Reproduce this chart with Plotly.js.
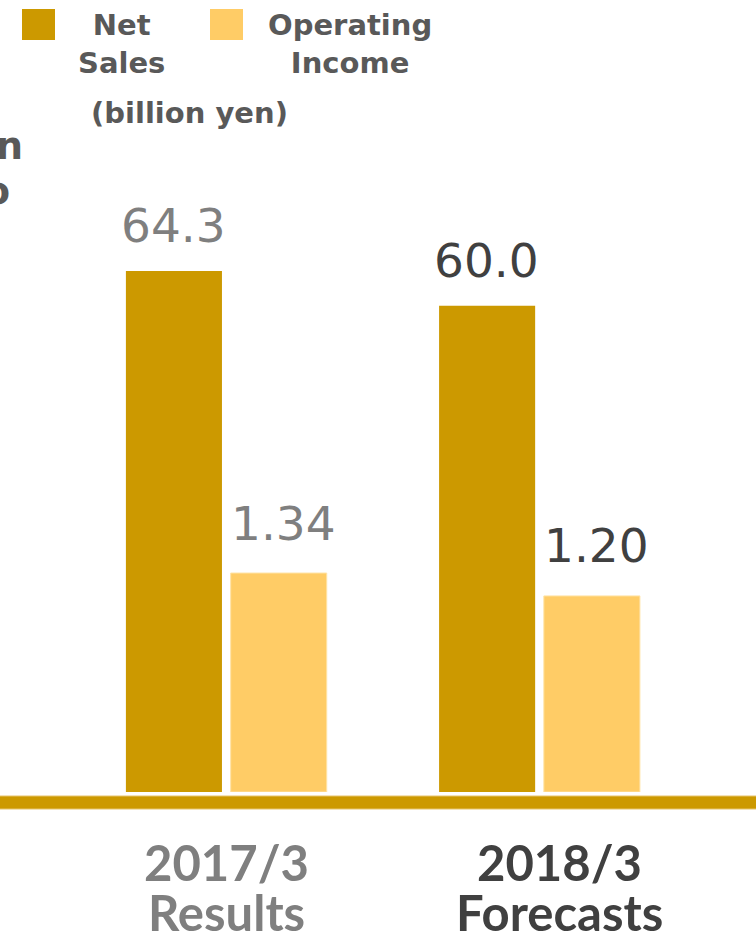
<!DOCTYPE html>
<html>
<head>
<meta charset="utf-8">
<script src="https://cdn.plot.ly/plotly-3.0.1.min.js"></script>
<style>html,body{margin:0;padding:0;background:#fff;}#chart{width:756px;height:931px;}</style>
</head>
<body>
<div id="chart"></div>
<script>
// ---- data ----
const categories = ['2017/3', '2018/3'];
const categoryNotes = ['Results', 'Forecasts'];
const netSales = [64.3, 60.0];
const operatingIncome = [1.34, 1.20];
const netSalesText = ['64.3', '60.0'];
const operatingIncomeText = ['1.34', '1.20'];
const seriesNames = ['Net Sales', 'Operating Income'];
const legendTexts = ['Net<br>Sales', 'Operating<br>Income'];
const unitText = '(billion yen)';
const cutText = ['n', 'o'];

// ---- styles ----
const seriesColors = ['#CC9900', '#FFCC66'];
const categoryColors = ['#7F7F7F', '#404040'];
const legendColor = '#595959';
const W = 756, H = 931, T = 150, B = 139;
const PH = H - T - B;
const px = v => v / W;              // pixel x -> paper
const py = v => (H - B - v) / PH;   // pixel y -> paper

const traces = [
  {type: 'bar', name: seriesNames[0], x: categories, y: netSales, yaxis: 'y', offsetgroup: 'a',
   marker: {color: seriesColors[0]}, hoverinfo: 'none'},
  {type: 'bar', name: seriesNames[1], x: categories, y: operatingIncome, yaxis: 'y2', offsetgroup: 'b',
   marker: {color: seriesColors[1], line: {color: '#FFE3A6', width: 1}}, hoverinfo: 'none'}
];

const annotations = [];
const labelShift = [0, 20];
categories.forEach((c, i) => {
  annotations.push({xref: 'x', yref: 'y', x: c, y: netSales[i], text: netSalesText[i], showarrow: false,
    xshift: -53, yshift: 45, yanchor: 'middle',
    font: {family: 'DejaVu Sans', size: 47, color: categoryColors[i]}});
  annotations.push({xref: 'x', yref: 'y2', x: c, y: operatingIncome[i], text: operatingIncomeText[i], showarrow: false,
    xshift: 57, yshift: 50, yanchor: 'middle',
    font: {family: 'DejaVu Sans', size: 47, color: categoryColors[i]}});
  annotations.push({xref: 'x', yref: 'paper', x: c, y: 0, text: '<b>' + c + '</b>', showarrow: false,
    xshift: labelShift[i], yshift: -70, yanchor: 'middle', height: 48,
    font: {family: 'Lato', size: 49, color: categoryColors[i]}});
  annotations.push({xref: 'x', yref: 'paper', x: c, y: 0, text: '<b>' + categoryNotes[i] + '</b>', showarrow: false,
    xshift: labelShift[i], yshift: -120, yanchor: 'middle', height: 48,
    font: {family: 'Lato', size: 49, color: categoryColors[i]}});
});
// legend texts
const legendCenters = [121, 350];
legendTexts.forEach((t, i) => {
  annotations.push({xref: 'paper', yref: 'paper', x: px(legendCenters[i]), y: py(44), text: '<b>' + t + '</b>',
    showarrow: false, align: 'center', xanchor: 'center', yanchor: 'middle',
    font: {family: 'DejaVu Sans', size: 29, color: legendColor}});
});
annotations.push({xref: 'paper', yref: 'paper', x: px(189), y: py(113), text: '<b>' + unitText + '</b>',
  showarrow: false, xanchor: 'center', yanchor: 'middle',
  font: {family: 'DejaVu Sans', size: 29, color: legendColor}});
annotations.push({xref: 'paper', yref: 'paper', x: px(25), y: py(146), text: '<b>' + cutText[0] + '</b>',
  showarrow: false, xanchor: 'right', yanchor: 'middle',
  font: {family: 'DejaVu Sans', size: 38, color: legendColor}});
annotations.push({xref: 'paper', yref: 'paper', x: px(12), y: py(191), text: '<b>' + cutText[1] + '</b>',
  showarrow: false, xanchor: 'right', yanchor: 'middle',
  font: {family: 'DejaVu Sans', size: 38, color: legendColor}});

const shapes = [
  {type: 'rect', xref: 'paper', yref: 'paper', x0: px(-2), x1: px(W + 2), y0: py(796), y1: py(809),
   fillcolor: seriesColors[0], line: {color: '#E6C36A', width: 1}, layer: 'above'},
  {type: 'rect', xref: 'paper', yref: 'paper', x0: px(22), x1: px(55), y0: py(9), y1: py(40),
   fillcolor: seriesColors[0], line: {width: 0}},
  {type: 'rect', xref: 'paper', yref: 'paper', x0: px(210), x1: px(243), y0: py(9), y1: py(40),
   fillcolor: seriesColors[1], line: {width: 0}}
];

const layout = {
  width: W, height: H,
  margin: {l: 0, r: 0, t: T, b: B, pad: 0},
  paper_bgcolor: '#ffffff', plot_bgcolor: '#ffffff',
  showlegend: false,
  barmode: 'group', bargap: 0.331, bargroupgap: 0.083,
  xaxis: {type: 'category', range: [-0.7226, 1.6913], showticklabels: false, showgrid: false,
          zeroline: false, showline: false, ticks: '', fixedrange: true},
  yaxis: {range: [0, 79.23], visible: false, fixedrange: true},
  yaxis2: {range: [0, 3.929], overlaying: 'y', visible: false, fixedrange: true},
  annotations: annotations,
  shapes: shapes
};

Plotly.newPlot('chart', traces, layout, {displayModeBar: false, staticPlot: true});
</script>
</body>
</html>
